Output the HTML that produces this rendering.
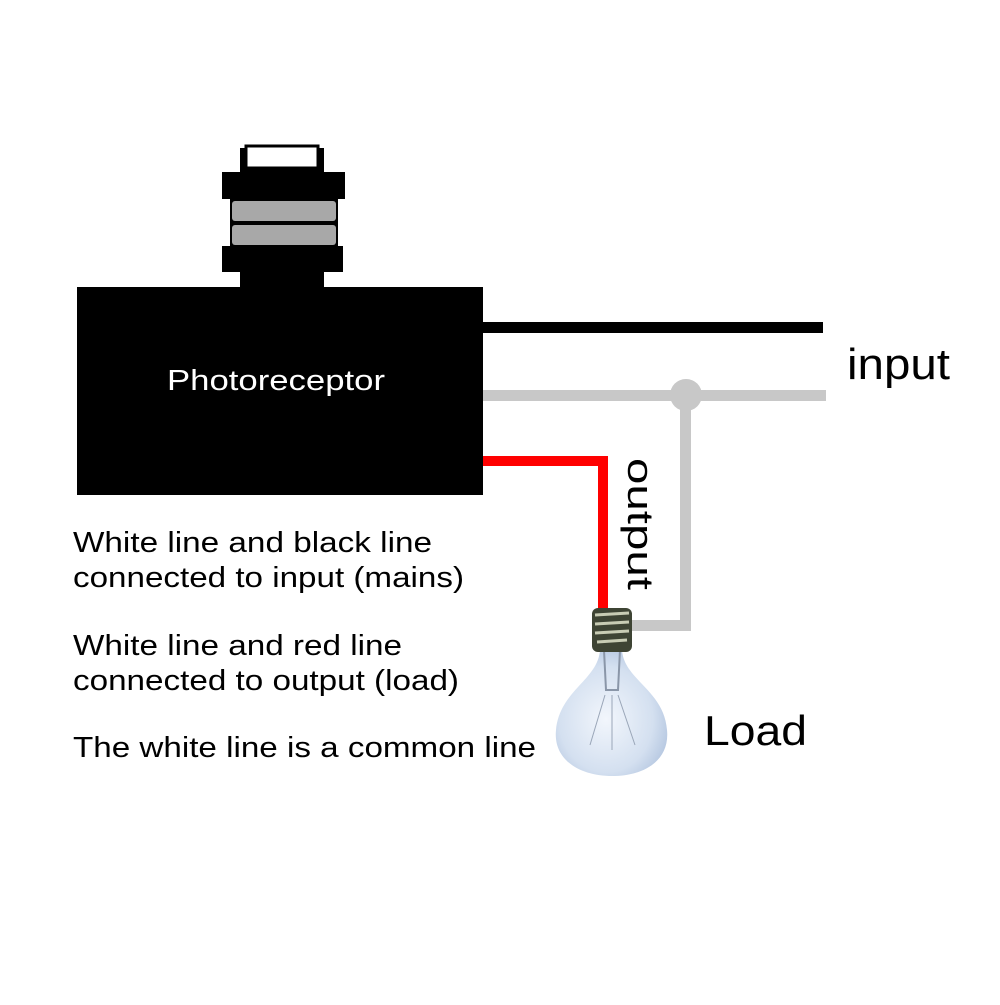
<!DOCTYPE html>
<html><head><style>
body{margin:0;background:#fff}
svg text{font-family:"Liberation Sans",Arial,sans-serif}
</style></head><body>
<svg width="1000" height="1000" viewBox="0 0 1000 1000">
<defs>
<radialGradient id="g" cx="0.45" cy="0.55" r="0.6">
<stop offset="0" stop-color="#f2f6fc"/><stop offset="0.7" stop-color="#d4e0f0"/><stop offset="1" stop-color="#b4c6e0"/>
</radialGradient>
</defs>
<rect width="1000" height="1000" fill="#fff"/>
<rect x="240" y="148" width="84" height="26" fill="#000"/>
<rect x="246" y="146" width="72" height="22" fill="#fff" stroke="#000" stroke-width="3"/>
<rect x="222" y="172" width="123" height="27" fill="#000"/>
<rect x="230" y="199" width="108" height="48" fill="#000"/>
<rect x="232" y="201" width="104" height="20" rx="3" fill="#a8a8a8"/>
<rect x="232" y="225" width="104" height="20" rx="3" fill="#a8a8a8"/>
<rect x="222" y="246" width="121" height="26" fill="#000"/>
<rect x="240" y="270" width="84" height="20" fill="#000"/>
<rect x="77" y="287" width="406" height="208" fill="#000"/>
<text x="167" y="390" font-size="29" fill="#fff" textLength="218" lengthAdjust="spacingAndGlyphs">Photoreceptor</text>
<rect x="483" y="322" width="340" height="11" fill="#000"/>
<rect x="483" y="390" width="343" height="11" fill="#c8c8c8"/>
<circle cx="686" cy="395" r="16" fill="#c8c8c8"/>
<rect x="680" y="395" width="11" height="236" fill="#c8c8c8"/>
<rect x="612" y="620" width="79" height="11" fill="#c8c8c8"/>
<rect x="483" y="456" width="125" height="10" fill="#f00"/>
<rect x="598" y="456" width="10" height="156" fill="#f00"/>
<path d="M600 650 C598 680 560 690 556 730 C553 760 580 776 612 776 C645 776 670 760 667 730 C664 690 624 680 622 650 Z" fill="url(#g)"/>
<path d="M604 650 L606 690 L618 690 L620 650" fill="none" stroke="#8a96a8" stroke-width="2"/>
<path d="M605 695 L590 745 M612 695 L612 750 M618 695 L635 745" stroke="#9aa6b8" stroke-width="1"/>
<rect x="592" y="608" width="40" height="44" rx="6" fill="#3e4434"/>
<g stroke="#c8ccb4" stroke-width="3">
<line x1="595" y1="615" x2="629" y2="613"/><line x1="595" y1="624" x2="629" y2="622"/>
<line x1="595" y1="633" x2="629" y2="631"/><line x1="597" y1="642" x2="627" y2="640"/>
</g>
<text x="847" y="379" font-size="44" fill="#000" textLength="103" lengthAdjust="spacingAndGlyphs">input</text>
<text x="704" y="745" font-size="42" fill="#000" textLength="103" lengthAdjust="spacingAndGlyphs">Load</text>
<text transform="translate(628,458) rotate(90)" font-size="36" fill="#000" textLength="132" lengthAdjust="spacingAndGlyphs">output</text>
<g font-size="29" fill="#000" lengthAdjust="spacingAndGlyphs">
<text x="73" y="552" textLength="359" lengthAdjust="spacingAndGlyphs">White line and black line</text>
<text x="73" y="587" textLength="391" lengthAdjust="spacingAndGlyphs">connected to input (mains)</text>
<text x="73" y="655" textLength="329" lengthAdjust="spacingAndGlyphs">White line and red line</text>
<text x="73" y="690" textLength="386" lengthAdjust="spacingAndGlyphs">connected to output (load)</text>
<text x="73" y="757" textLength="463" lengthAdjust="spacingAndGlyphs">The white line is a common line</text>
</g>
</svg>
</body></html>
